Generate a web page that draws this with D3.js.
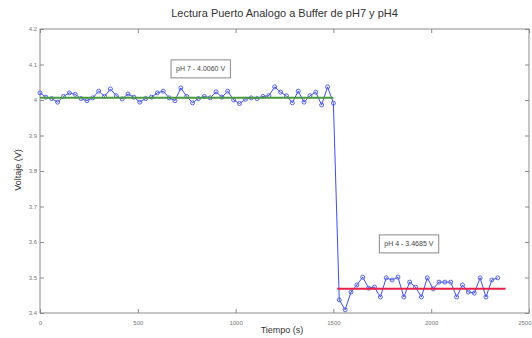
<!DOCTYPE html>
<html>
<head>
<meta charset="utf-8">
<script src="https://cdn.jsdelivr.net/npm/d3@7"></script>
<style>
  body { margin: 0; background: #fff; }
  svg { display: block; font-family: "Liberation Sans", Arial, sans-serif; }
</style>
</head>
<body>
<div id="chart"></div>
<script>
// sample times (s)
const times = [0,30,60,90,120,150,180,210,240,270,300,330,360,390,420,450,480,510,540,570,
  600,630,660,690,720,750,780,810,840,870,900,930,960,990,1020,1050,1080,1110,1140,1170,
  1200,1230,1260,1290,1320,1350,1380,1410,1440,1470,1500,
  1530,1560,1590,1620,1650,1680,1710,1740,1770,1800,1830,1860,1890,1920,1950,1980,2010,2040,
  2070,2100,2130,2160,2190,2220,2250,2280,2310,2340];
// voltage read on the analog port (V)
const voltage = [4.020,4.008,4.004,3.994,4.010,4.020,4.016,4.004,3.998,4.006,
  4.025,4.010,4.031,4.012,4.003,4.017,4.008,3.994,4.004,4.008,
  4.020,4.025,4.006,3.998,4.034,4.010,3.992,4.004,4.010,4.006,
  4.023,4.008,4.025,4.000,3.990,4.002,4.006,4.004,4.010,4.012,
  4.037,4.022,4.012,3.992,4.025,3.994,4.012,4.022,3.986,4.037,3.991,
  3.437,3.409,3.459,3.479,3.501,3.470,3.473,3.445,3.499,3.493,
  3.501,3.445,3.487,3.473,3.445,3.499,3.468,3.487,3.487,3.487,
  3.445,3.479,3.459,3.456,3.499,3.445,3.493,3.499];

// mean levels for each buffer
const ph7Span = [0, 1500];
const ph7Mean = 4.0060;
const ph4Span = [1520, 2380];
const ph4Mean = 3.4685;

const xTicks = [0, 500, 1000, 1500, 2000, 2500];
const yTicks = [3.4, 3.5, 3.6, 3.7, 3.8, 3.9, 4, 4.1, 4.2];

// text boxes: [time, voltage at top, label]
const notes = [
  [670, 4.113, 'pH 7 - 4.0060 V'],
  [1735, 3.620, 'pH 4 - 3.4685 V']
];

const W = 532, H = 338;
const margin = { top: 29, right: 3, bottom: 25, left: 40 };

const svg = d3.select('#chart').append('svg')
  .attr('width', W)
  .attr('height', H);

const x = d3.scaleLinear().domain([0, 2500]).range([margin.left, W - margin.right]);
const y = d3.scaleLinear().domain([3.4, 4.2]).range([H - margin.bottom, margin.top]);

const axisColor = '#8a8a8a';

// box + inward ticks on all four sides
svg.append('rect')
  .attr('x', x(0)).attr('y', y(4.2))
  .attr('width', x(2500) - x(0)).attr('height', y(3.4) - y(4.2))
  .attr('fill', 'none').attr('stroke', axisColor).attr('stroke-width', 1);

const tickLen = 4;
function styleAxis(g) {
  g.select('.domain').remove();
  g.selectAll('.tick line').attr('stroke', axisColor);
  g.selectAll('.tick text').attr('fill', '#777').style('font-size', '6px');
}

const xAxisG = svg.append('g').attr('transform', `translate(0,${y(3.4)})`)
  .call(d3.axisBottom(x).tickValues(xTicks).tickSizeInner(-tickLen).tickPadding(8).tickFormat(d3.format('d')))
  .call(styleAxis);
// last label sits on the window edge, keep it inside
xAxisG.selectAll('.tick text').filter(d => d === 2500).attr('text-anchor', 'end').attr('dx', 2);

svg.append('g').attr('transform', `translate(0,${y(4.2)})`)
  .call(d3.axisTop(x).tickValues(xTicks).tickSizeInner(-tickLen).tickFormat(''))
  .call(styleAxis);
svg.append('g').attr('transform', `translate(${x(0)},0)`)
  .call(d3.axisLeft(y).tickValues(yTicks).tickSizeInner(-tickLen).tickPadding(3).tickFormat(d3.format('')))
  .call(styleAxis);
svg.append('g').attr('transform', `translate(${x(2500)},0)`)
  .call(d3.axisRight(y).tickValues(yTicks).tickSizeInner(-tickLen).tickFormat(''))
  .call(styleAxis);

// measured data
const data = times.map((t, i) => ({ t, v: voltage[i] }));
const line = d3.line().x(d => x(d.t)).y(d => y(d.v));

svg.append('path')
  .datum(data)
  .attr('fill', 'none')
  .attr('stroke', '#3f4fe8')
  .attr('stroke-width', 1)
  .attr('d', line);

svg.selectAll('.dot')
  .data(data)
  .enter().append('circle')
  .attr('cx', d => x(d.t))
  .attr('cy', d => y(d.v))
  .attr('r', 2)
  .attr('fill', 'none')
  .attr('stroke', '#5563ec')
  .attr('stroke-width', 1);

// mean lines
svg.append('line')
  .attr('x1', x(ph7Span[0])).attr('x2', x(ph7Span[1]))
  .attr('y1', y(ph7Mean)).attr('y2', y(ph7Mean))
  .attr('stroke', '#4a9a3c').attr('stroke-width', 2);
svg.append('line')
  .attr('x1', x(ph4Span[0])).attr('x2', x(ph4Span[1]))
  .attr('y1', y(ph4Mean)).attr('y2', y(ph4Mean))
  .attr('stroke', '#e8204a').attr('stroke-width', 2);

// annotation boxes
notes.forEach(([t, v, label]) => {
  const g = svg.append('g');
  const txt = g.append('text')
    .attr('x', x(t) + 5).attr('y', y(v) + 11)
    .attr('fill', '#444').style('font-size', '7px')
    .text(label);
  const bb = txt.node().getBBox();
  g.insert('rect', 'text')
    .attr('x', x(t)).attr('y', y(v))
    .attr('width', bb.width + 10).attr('height', 18)
    .attr('fill', '#fff').attr('stroke', '#888').attr('stroke-width', 1);
});

// title and axis labels
svg.append('text')
  .attr('x', (x(0) + x(2500)) / 2).attr('y', 17)
  .attr('text-anchor', 'middle')
  .attr('fill', '#333').style('font-size', '11px')
  .text('Lectura Puerto Analogo a Buffer de pH7 y pH4');

svg.append('text')
  .attr('x', 282).attr('y', 333)
  .attr('text-anchor', 'middle')
  .attr('fill', '#333').style('font-size', '9px')
  .text('Tiempo (s)');

svg.append('text')
  .attr('transform', `translate(21,170) rotate(-90)`)
  .attr('text-anchor', 'middle')
  .attr('fill', '#333').style('font-size', '9px')
  .text('Voltaje (V)');
</script>
</body>
</html>
